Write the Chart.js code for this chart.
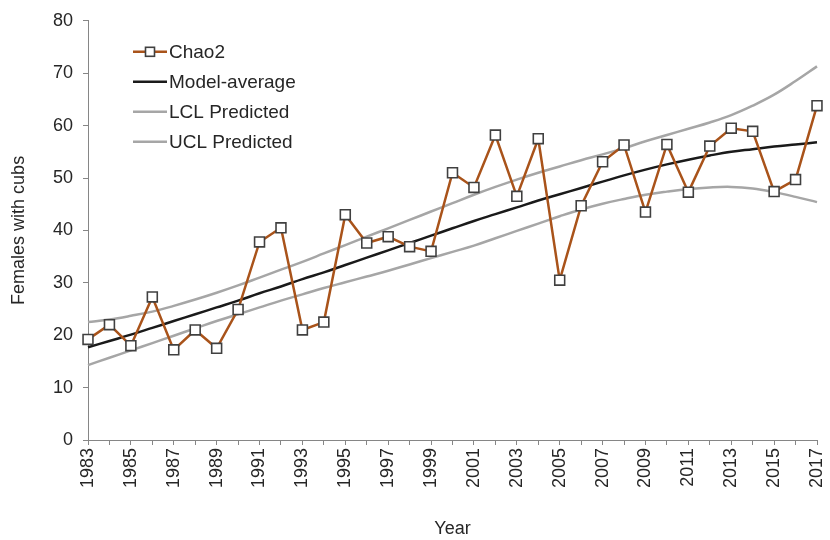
<!DOCTYPE html>
<html>
<head>
<meta charset="utf-8">
<script src="https://cdn.jsdelivr.net/npm/chart.js@4.4.1/dist/chart.umd.min.js"></script>
<style>
  html, body { margin: 0; padding: 0; background: #fff; }
  #wrap { width: 830px; height: 540px; }
</style>
</head>
<body>
<div id="wrap"><canvas id="cubsChart" width="830" height="540"></canvas></div>
<script>
const years = ['1983', '1984', '1985', '1986', '1987', '1988', '1989', '1990', '1991', '1992',
  '1993', '1994', '1995', '1996', '1997', '1998', '1999', '2000', '2001', '2002',
  '2003', '2004', '2005', '2006', '2007', '2008', '2009', '2010', '2011', '2012',
  '2013', '2014', '2015', '2016', '2017'];

// Chao2 estimates of females with cubs per year
const chao2 = [19.2, 22.0, 18.0, 27.3, 17.2, 21.0, 17.5, 24.9, 37.8, 40.5,
  21.0, 22.5, 43.0, 37.6, 38.8, 36.9, 36.0, 51.0, 48.2, 58.2,
  46.5, 57.5, 30.5, 44.7, 53.1, 56.3, 43.5, 56.4, 47.3, 56.1,
  59.5, 58.9, 47.4, 49.7, 63.8];

const modelAverage = [17.7, 18.9, 20.1, 21.4, 22.7, 24.0, 25.3, 26.6, 28.0, 29.3,
  30.7, 32.0, 33.4, 34.8, 36.2, 37.6, 39.0, 40.4, 41.8, 43.1,
  44.4, 45.7, 46.9, 48.1, 49.3, 50.5, 51.6, 52.6, 53.5, 54.3,
  55.0, 55.5, 56.0, 56.4, 56.8];

const lclPredicted = [14.3, 15.7, 17.1, 18.5, 19.9, 21.3, 22.7, 24.0, 25.3, 26.6,
  27.8, 29.0, 30.1, 31.2, 32.3, 33.5, 34.7, 35.9, 37.1, 38.5,
  39.9, 41.3, 42.7, 44.0, 45.1, 46.0, 46.8, 47.4, 47.9, 48.2,
  48.3, 48.0, 47.3, 46.4, 45.4];

const uclPredicted = [22.5, 23.0, 23.7, 24.5, 25.6, 26.8, 28.1, 29.5, 31.0, 32.5,
  34.0, 35.6, 37.2, 38.8, 40.4, 42.0, 43.6, 45.2, 46.8, 48.3,
  49.7, 51.0, 52.2, 53.4, 54.5, 55.7, 57.0, 58.2, 59.4, 60.6,
  62.0, 63.8, 65.9, 68.5, 71.3];

const yMin = 0;
const yMax = 80;
const yStep = 10;

const FONT = '"Liberation Sans", Arial, sans-serif';
const TEXT = '#262626';
const AXIS = '#868686';

// legend drawn inside the plot, top left
const insideLegend = {
  id: 'insideLegend',
  afterDraw(chart) {
    const ctx = chart.ctx;
    const x0 = chart.chartArea.left + 45;
    let y = chart.chartArea.top + 31;
    ctx.save();
    ctx.font = '19px ' + FONT;
    ctx.textBaseline = 'middle';
    chart.data.datasets.forEach(ds => {
      ctx.strokeStyle = ds.borderColor;
      ctx.lineWidth = ds.borderWidth;
      ctx.beginPath();
      ctx.moveTo(x0, y);
      ctx.lineTo(x0 + 34, y);
      ctx.stroke();
      if (ds.pointRadius > 0) {
        ctx.fillStyle = ds.pointBackgroundColor;
        ctx.strokeStyle = ds.pointBorderColor;
        ctx.lineWidth = ds.pointBorderWidth;
        ctx.fillRect(x0 + 12.5, y - 4.5, 9, 9);
        ctx.strokeRect(x0 + 12.5, y - 4.5, 9, 9);
      }
      ctx.fillStyle = TEXT;
      ctx.fillText(ds.label, x0 + 36, y + 1);
      y += 30;
    });
    ctx.restore();
  }
};

const ctx = document.getElementById('cubsChart').getContext('2d');
new Chart(ctx, {
  type: 'line',
  data: {
    labels: years,
    datasets: [
      {
        label: 'Chao2',
        data: chao2,
        borderColor: '#A9531A',
        borderWidth: 2.5,
        tension: 0,
        pointStyle: 'rect',
        pointRadius: 7,
        pointBackgroundColor: '#ffffff',
        pointBorderColor: '#404040',
        pointBorderWidth: 1.6
      },
      {
        label: 'Model-average',
        data: modelAverage,
        borderColor: '#1a1a1a',
        borderWidth: 2.5,
        tension: 0.4,
        pointRadius: 0
      },
      {
        label: 'LCL Predicted',
        data: lclPredicted,
        borderColor: '#A6A6A6',
        borderWidth: 2.5,
        tension: 0.4,
        pointRadius: 0
      },
      {
        label: 'UCL Predicted',
        data: uclPredicted,
        borderColor: '#A6A6A6',
        borderWidth: 2.5,
        tension: 0.4,
        pointRadius: 0
      }
    ]
  },
  options: {
    responsive: false,
    animation: false,
    layout: { padding: { top: 19, right: 13, bottom: 0, left: 0 } },
    plugins: {
      legend: { display: false },
      tooltip: { enabled: false }
    },
    scales: {
      x: {
        offset: false,
        afterFit: (scale) => {
          scale.height = 100;
          scale.paddingLeft = 0;
          scale.paddingRight = 0;
        },
        grid: {
          display: true,
          drawOnChartArea: false,
          drawTicks: true,
          tickLength: 5,
          color: AXIS,
          offset: false
        },
        border: { display: true, color: AXIS, width: 1 },
        ticks: {
          autoSkip: false,
          minRotation: 90,
          maxRotation: 90,
          padding: 3,
          color: TEXT,
          font: { family: FONT, size: 18 },
          callback: function (value, index) {
            return index % 2 === 0 ? this.getLabelForValue(value) : '';
          }
        },
        title: {
          display: true,
          text: 'Year',
          color: TEXT,
          font: { family: FONT, size: 18 },
          padding: { top: 0, bottom: 0 }
        }
      },
      y: {
        min: yMin,
        max: yMax,
        afterFit: (scale) => { scale.width = 88; },
        grid: {
          display: true,
          drawOnChartArea: false,
          drawTicks: true,
          tickLength: 5,
          color: AXIS
        },
        border: { display: true, color: AXIS, width: 1 },
        ticks: {
          stepSize: yStep,
          padding: 10,
          color: TEXT,
          font: { family: FONT, size: 18 }
        },
        title: {
          display: true,
          text: 'Females with cubs',
          color: TEXT,
          font: { family: FONT, size: 18 },
          padding: { top: 8, bottom: 0 }
        }
      }
    }
  },
  plugins: [insideLegend]
});
</script>
</body>
</html>
